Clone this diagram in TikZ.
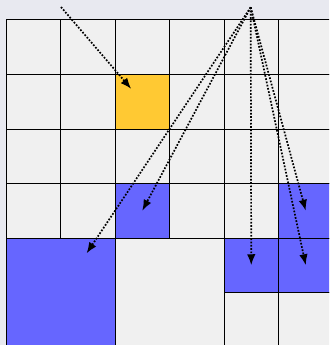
\documentclass[tikz,border=0pt]{standalone}
\usetikzlibrary{arrows.meta}
\definecolor{bgc}{RGB}{232,233,240}
\definecolor{cellgray}{RGB}{240,240,240}
\definecolor{hiyellow}{RGB}{255,201,51}
\definecolor{hiblue}{RGB}{102,102,255}
\begin{document}
\begin{tikzpicture}[x=1pt,y=-1pt,
  cell/.style={draw=black,line width=1pt,fill=cellgray,minimum size=54.5pt,inner sep=0pt,outer sep=0pt},
  bigcell/.style={cell,minimum size=109pt},
  ptr/.style={line width=1.7pt,dash pattern=on 1.7pt off 1.6pt,-{Latex[length=11pt,width=8.5pt]}}]
\useasboundingbox (0,0) rectangle (329,345);
\fill[bgc] (0,0) rectangle (329,345);
\begin{scope}
\clip (0,0) rectangle (329,345);
% rows 0-3, 1x1 cells
\foreach \r in {0,1,2,3}{
  \foreach \c in {0,1,2,3,4,5}{
    \node[cell] (c\r\c) at ({6+(\c+0.5)*54.5},{20+(\r+0.5)*54.5}) {};
  }
}
\node[cell,fill=hiyellow] (y12) at (c12) {};
\node[cell,fill=hiblue] (b32) at (c32) {};
\node[cell,fill=hiblue] (b35) at (c35) {};
% bottom rows
\node[bigcell,fill=hiblue] (big0) at ({6+54.5},{238+54.5}) {};
\node[bigcell] (big1) at ({115+54.5},{238+54.5}) {};
\node[cell,fill=hiblue] (b44) at ({6+4.5*54.5},{238+27.25}) {};
\node[cell,fill=hiblue] (b45) at ({6+5.5*54.5},{238+27.25}) {};
\node[cell] (c54) at ({6+4.5*54.5},{238+81.75}) {};
\node[cell] (c55) at ({6+5.5*54.5},{238+81.75}) {};
\end{scope}
\coordinate (s1) at (61,7);
\coordinate (s2) at (250.7,7.3);
\draw[ptr,shorten >=17pt] (s1) -- (y12.center);
\draw[ptr,shorten >=47pt] (s2) -- (big0.center);
\draw[ptr] (s2) -- (b32.center);
\draw[ptr] (s2) -- (b44.center);
\draw[ptr] (s2) -- (b35.center);
\draw[ptr] (s2) -- (b45.center);
\end{tikzpicture}
\end{document}
